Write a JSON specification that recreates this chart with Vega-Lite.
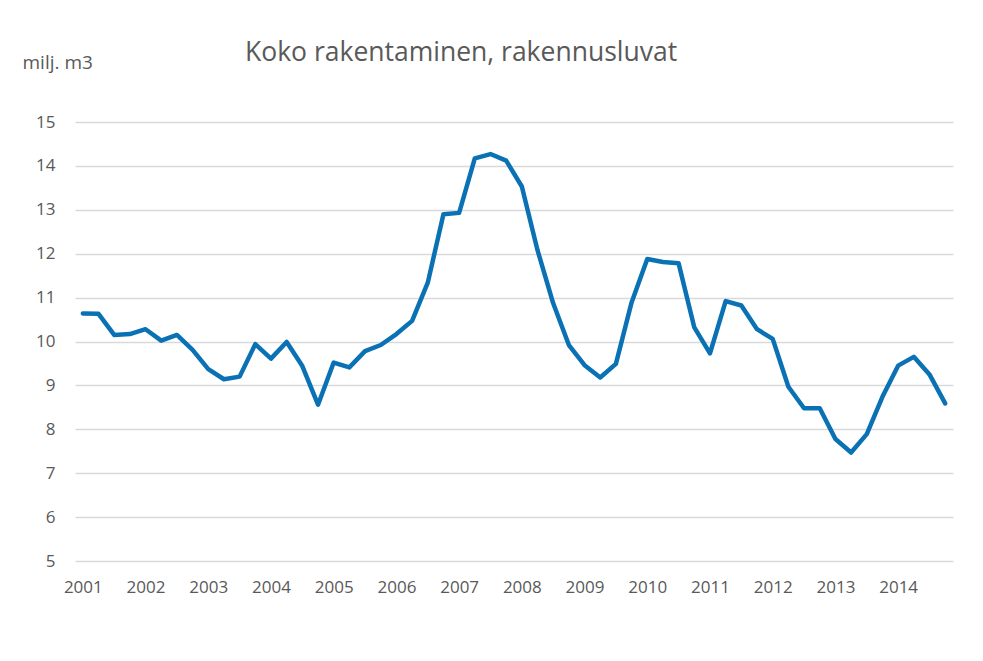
{
  "$schema": "https://vega.github.io/schema/vega-lite/v6.json",
  "width": 878,
  "height": 439,
  "autosize": {"type": "none"},
  "padding": {"left": 75, "top": 122, "right": 30, "bottom": 100},
  "background": "white",
  "title": {
    "text": "Koko rakentaminen, rakennusluvat",
    "anchor": "start",
    "dx": 223,
    "offset": -13,
    "font": "Open Sans",
    "fontSize": 26.5,
    "fontWeight": "normal",
    "color": "#595959"
  },
  "data": {
    "values": [
      {"q": "2001Q1", "v": 10.64}, {"q": "2001Q2", "v": 10.63}, {"q": "2001Q3", "v": 10.15}, {"q": "2001Q4", "v": 10.17},
      {"q": "2002Q1", "v": 10.28}, {"q": "2002Q2", "v": 10.02}, {"q": "2002Q3", "v": 10.15}, {"q": "2002Q4", "v": 9.81},
      {"q": "2003Q1", "v": 9.37}, {"q": "2003Q2", "v": 9.14}, {"q": "2003Q3", "v": 9.2}, {"q": "2003Q4", "v": 9.94},
      {"q": "2004Q1", "v": 9.61}, {"q": "2004Q2", "v": 9.99}, {"q": "2004Q3", "v": 9.44}, {"q": "2004Q4", "v": 8.56},
      {"q": "2005Q1", "v": 9.52}, {"q": "2005Q2", "v": 9.41}, {"q": "2005Q3", "v": 9.78}, {"q": "2005Q4", "v": 9.92},
      {"q": "2006Q1", "v": 10.17}, {"q": "2006Q2", "v": 10.47}, {"q": "2006Q3", "v": 11.34}, {"q": "2006Q4", "v": 12.9},
      {"q": "2007Q1", "v": 12.93}, {"q": "2007Q2", "v": 14.17}, {"q": "2007Q3", "v": 14.27}, {"q": "2007Q4", "v": 14.12},
      {"q": "2008Q1", "v": 13.53}, {"q": "2008Q2", "v": 12.08}, {"q": "2008Q3", "v": 10.87}, {"q": "2008Q4", "v": 9.92},
      {"q": "2009Q1", "v": 9.46}, {"q": "2009Q2", "v": 9.18}, {"q": "2009Q3", "v": 9.49}, {"q": "2009Q4", "v": 10.89},
      {"q": "2010Q1", "v": 11.88}, {"q": "2010Q2", "v": 11.81}, {"q": "2010Q3", "v": 11.78}, {"q": "2010Q4", "v": 10.32},
      {"q": "2011Q1", "v": 9.73}, {"q": "2011Q2", "v": 10.92}, {"q": "2011Q3", "v": 10.82}, {"q": "2011Q4", "v": 10.28},
      {"q": "2012Q1", "v": 10.06}, {"q": "2012Q2", "v": 8.97}, {"q": "2012Q3", "v": 8.48}, {"q": "2012Q4", "v": 8.48},
      {"q": "2013Q1", "v": 7.78}, {"q": "2013Q2", "v": 7.47}, {"q": "2013Q3", "v": 7.89}, {"q": "2013Q4", "v": 8.74},
      {"q": "2014Q1", "v": 9.45}, {"q": "2014Q2", "v": 9.65}, {"q": "2014Q3", "v": 9.25}, {"q": "2014Q4", "v": 8.59}
    ]
  },
  "mark": {"type": "line", "color": "#0A72B4", "strokeWidth": 4.5, "strokeJoin": "round", "strokeCap": "round"},
  "encoding": {
    "x": {
      "field": "q",
      "type": "ordinal",
      "sort": null,
      "scale": {"type": "point", "padding": 0.5},
      "axis": {
        "title": null,
        "labelAngle": 0,
        "labelExpr": "indexof(datum.value, 'Q1') > 0 ? slice(datum.value, 0, 4) : ''",
        "labelOverlap": false,
        "labelPadding": 18,
        "labelFont": "Open Sans",
        "labelFontSize": 17,
        "labelColor": "#595959",
        "ticks": false,
        "domain": false,
        "grid": false
      }
    },
    "y": {
      "field": "v",
      "type": "quantitative",
      "scale": {"domain": [5, 15], "nice": false, "zero": false},
      "axis": {
        "title": "milj. m3",
        "titleAngle": 0,
        "titleAlign": "left",
        "titleBaseline": "middle",
        "titleX": -53,
        "titleY": -60,
        "titleFont": "Open Sans",
        "titleFontSize": 19,
        "titleFontWeight": "normal",
        "titleColor": "#595959",
        "values": [5, 6, 7, 8, 9, 10, 11, 12, 13, 14, 15],
        "labelPadding": 20,
        "labelFont": "Open Sans",
        "labelFontSize": 17,
        "labelColor": "#595959",
        "ticks": false,
        "domain": false,
        "grid": true,
        "gridColor": "#d9d9d9",
        "gridWidth": 1.5
      }
    }
  },
  "config": {"view": {"stroke": null}}
}
